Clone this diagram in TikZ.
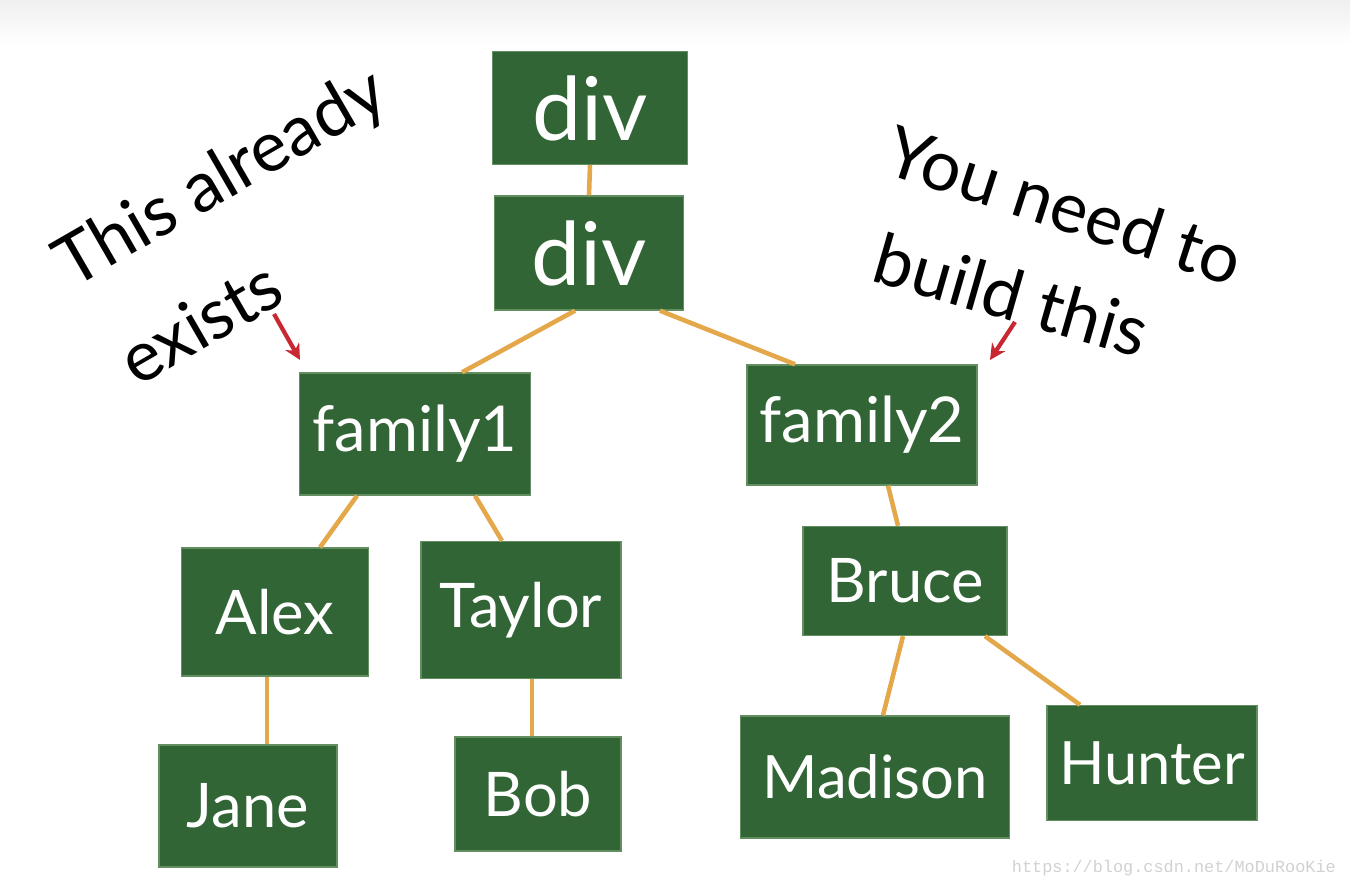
\documentclass[tikz,border=0pt]{standalone}
\usepackage{fontspec}
\setmainfont{Lato}
\setmonofont{Liberation Mono}
\usetikzlibrary{calc,arrows.meta}
\definecolor{boxgreen}{RGB}{50,101,53}
\definecolor{boxedge}{RGB}{98,142,96}
\definecolor{linkorange}{RGB}{228,168,74}
\definecolor{notered}{RGB}{200,40,50}
\begin{document}
\begin{tikzpicture}[x=0.02cm, y=-0.02cm, >=Stealth,
		box/.style={fill=boxgreen, draw=boxedge, line width=0.8pt, text=white, inner sep=0pt},
		link/.style={draw=linkorange, line width=2.6pt},
		hand/.style={text=black, inner sep=0pt, font=\fontsize{40}{40}\selectfont},
		pointer/.style={-{Stealth[length=9pt, width=9pt]}, draw=notered, line width=2.4pt}]
	\useasboundingbox (0,0) rectangle (1350,888);
	\shade[top color=black!6, bottom color=white] (0,0) rectangle (1350,45);
	% tree boxes
	\foreach \name/\x/\y/\w/\h/\fs/\txt in {div1/590/108/3.90/2.26/50/div, div2/589/253/3.78/2.28/50/div,
			fam1/415/434/4.62/2.44/36/family1, fam2/862/425/4.60/2.40/36/family2,
			alex/275/612/3.74/2.56/35/Alex, taylor/521/610/4.00/2.74/35/Taylor, bruce/905/581/4.08/2.18/35/Bruce,
			jane/248/806/3.56/2.44/35/Jane, bob/538/794/3.32/2.28/35/Bob,
			madison/875/777/5.38/2.44/34/Madison, hunter/1152/763/4.20/2.30/34/Hunter} {
		\node[box, minimum width=\w cm, minimum height=\h cm, font=\fontsize{\fs}{\fs}\selectfont] (\name) at (\x,\y) {\txt};
	}
	% links, offsets in px from the south / north anchors
	\foreach \a/\da/\b/\db in {div1/0/div2/0, div2/-14/fam1/47, div2/71/fam2/-67,
			fam1/-58/alex/45, fam1/60/taylor/-19, alex/-8/jane/19, taylor/11/bob/-6,
			fam2/26/bruce/-7, bruce/-2/madison/8, bruce/80/hunter/-72} {
		\draw[link] ($(\a.south)+(\da,0)$) -- ($(\b.north)+(\db,0)$);
	}
	% notes
	\node[hand, rotate=30] (exists1) at (222,180) {This already};
	\node[hand, rotate=30] (exists2) at (200,322) {exists};
	\node[hand, rotate=-18] (build1) at (1065,205) {You need to};
	\node[hand, rotate=-16] (build2) at (1012,295) {build this};
	\coordinate (p1) at (274,314);
	\coordinate (p2) at (300,360);
	\coordinate (q1) at (1015,322);
	\coordinate (q2) at (990,360);
	\draw[pointer] (p1) -- (p2);
	\draw[pointer] (q1) -- (q2);
	\node[anchor=east, text=black!18, font=\fontsize{9.6}{10}\selectfont\ttfamily] (mark) at (1342,868) {https://blog.csdn.net/MoDuRooKie};
\end{tikzpicture}
\end{document}
